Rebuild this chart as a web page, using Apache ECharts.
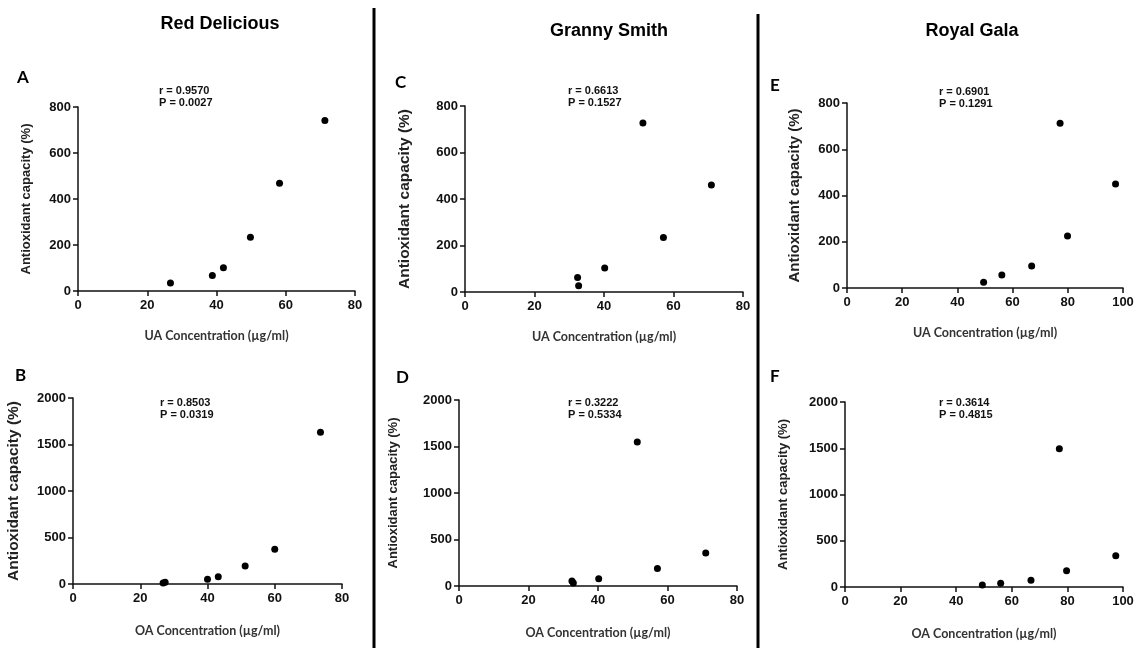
<!DOCTYPE html>
<html>
<head>
<meta charset="utf-8">
<script src="https://cdn.jsdelivr.net/npm/echarts@6/dist/echarts.min.js"></script>
<style>
  html, body { margin: 0; padding: 0; background: #fff; }
  #chart { width: 1146px; height: 648px; }
</style>
</head>
<body>
<div id="chart"></div>
<script>
// [concentration, antioxidant capacity]
const redUA    = [[26.7, 35], [38.8, 67], [42.0, 101], [49.8, 234], [58.2, 469], [71.3, 741]];
const redOA    = [[26.8, 12], [27.4, 20], [40.0, 50], [43.2, 79], [51.2, 194], [60.0, 373], [73.6, 1631]];
const grannyUA = [[32.4, 62], [32.7, 27], [40.2, 103], [51.2, 727], [57.1, 234], [70.9, 460]];
const grannyOA = [[32.5, 54], [32.9, 32], [40.2, 79], [51.3, 1548], [57.1, 187], [71.0, 355]];
const galaUA   = [[49.5, 25], [56.1, 56], [66.9, 95], [77.2, 712], [79.9, 225], [97.3, 450]];
const galaOA   = [[49.4, 22], [56.0, 40], [66.9, 72], [77.1, 1495], [79.7, 177], [97.4, 339]];

const varieties = ['Red Delicious', 'Granny Smith', 'Royal Gala'];
const letters   = ['A', 'B', 'C', 'D', 'E', 'F'];
const stats = [
  ['r = 0.9570', 'P = 0.0027'],
  ['r = 0.8503', 'P = 0.0319'],
  ['r = 0.6613', 'P = 0.1527'],
  ['r = 0.3222', 'P = 0.5334'],
  ['r = 0.6901', 'P = 0.1291'],
  ['r = 0.3614', 'P = 0.4815']
];
const xMax = [80, 80, 80, 80, 100, 100];
const yMax = [800, 2000, 800, 2000, 800, 2000];
const yStep = [200, 500, 200, 500, 200, 500];
const xNames = ['UA Concentration (µg/ml)', 'OA Concentration (µg/ml)'];
const yName = 'Antioxidant capacity (%)';

const panelData = [redUA, redOA, grannyUA, grannyOA, galaUA, galaOA];

// layout (px) for each panel, order A B C D E F
const grids = [
  { left: 78,  top: 107, width: 277, height: 184 },
  { left: 73,  top: 398, width: 269, height: 186 },
  { left: 465, top: 106, width: 278, height: 186 },
  { left: 459, top: 400, width: 278, height: 186 },
  { left: 847, top: 103, width: 276, height: 185 },
  { left: 845, top: 402, width: 278, height: 185 }
];
const yNameGap  = [45, 51, 52, 59, 45, 55];
const yNameSize = [13, 15.5, 15.5, 13, 15, 13];
const xNameGap  = [38, 40, 38, 40, 38, 40];
const letterPos = [[17, 69], [15, 367], [395, 74], [396, 369], [770, 77], [770, 368]];
const statPos   = [[159, 85], [160, 397], [568, 85], [568, 397], [939, 86], [939, 397]];
const headPos   = [[220, 24], [609, 31], [972, 31]];

const AX = '#111';
const tickFont = { fontFamily: 'Liberation Sans', fontWeight: 'bold', fontSize: 13, color: AX };

const chart = echarts.init(document.getElementById('chart'), null, { renderer: 'canvas' });

const xAxis = [], yAxis = [], series = [], graphic = [];

grids.forEach((g, i) => {
  xAxis.push({
    gridIndex: i, type: 'value', min: 0, max: xMax[i], interval: 20,
    name: xNames[i % 2], nameLocation: 'middle', nameGap: xNameGap[i],
    nameTextStyle: { fontFamily: 'Lato', fontWeight: 'bold', fontSize: 12.5, color: '#333' },
    axisLine: { show: true, lineStyle: { color: AX, width: 1.5 } },
    axisTick: { show: true, length: 5, lineStyle: { color: AX, width: 1.5 } },
    axisLabel: Object.assign({ margin: 8, formatter: v => String(v) }, tickFont),
    splitLine: { show: false }
  });
  yAxis.push({
    gridIndex: i, type: 'value', min: 0, max: yMax[i], interval: yStep[i],
    name: yName, nameLocation: 'middle', nameGap: yNameGap[i], nameRotate: 90,
    nameTextStyle: { fontFamily: 'Liberation Sans', fontWeight: 'bold', fontSize: yNameSize[i], color: '#222' },
    axisLine: { show: true, lineStyle: { color: AX, width: 1.5 } },
    axisTick: { show: true, length: 5, lineStyle: { color: AX, width: 1.5 } },
    axisLabel: Object.assign({ margin: 7, formatter: v => String(v) }, tickFont),
    splitLine: { show: false }
  });
  series.push({
    type: 'scatter', xAxisIndex: i, yAxisIndex: i,
    data: panelData[i], symbol: 'circle', symbolSize: 7,
    itemStyle: { color: '#000', opacity: 1 }, silent: true
  });
  graphic.push({
    type: 'text', left: letterPos[i][0], top: letterPos[i][1],
    style: { text: letters[i], font: 'bold 17px Lato', fill: '#000' }
  });
  graphic.push({
    type: 'text', left: statPos[i][0], top: statPos[i][1],
    style: { text: stats[i].join('\n'), font: 'bold 11px "Liberation Sans"', lineHeight: 12, fill: '#111' }
  });
});

varieties.forEach((v, i) => {
  graphic.push({
    type: 'text', x: headPos[i][0], y: headPos[i][1],
    style: { text: v, font: 'bold 18px "Liberation Sans"', fill: '#000', align: 'center', verticalAlign: 'middle' }
  });
});

// column dividers
graphic.push({ type: 'line', shape: { x1: 374, y1: 8, x2: 374, y2: 648 }, style: { stroke: '#000', lineWidth: 3 } });
graphic.push({ type: 'line', shape: { x1: 758, y1: 14, x2: 758, y2: 648 }, style: { stroke: '#000', lineWidth: 3 } });

chart.setOption({
  animation: false,
  backgroundColor: '#ffffff',
  grid: grids.map(g => Object.assign({ containLabel: false }, g)),
  xAxis, yAxis, series, graphic
});
</script>
</body>
</html>
